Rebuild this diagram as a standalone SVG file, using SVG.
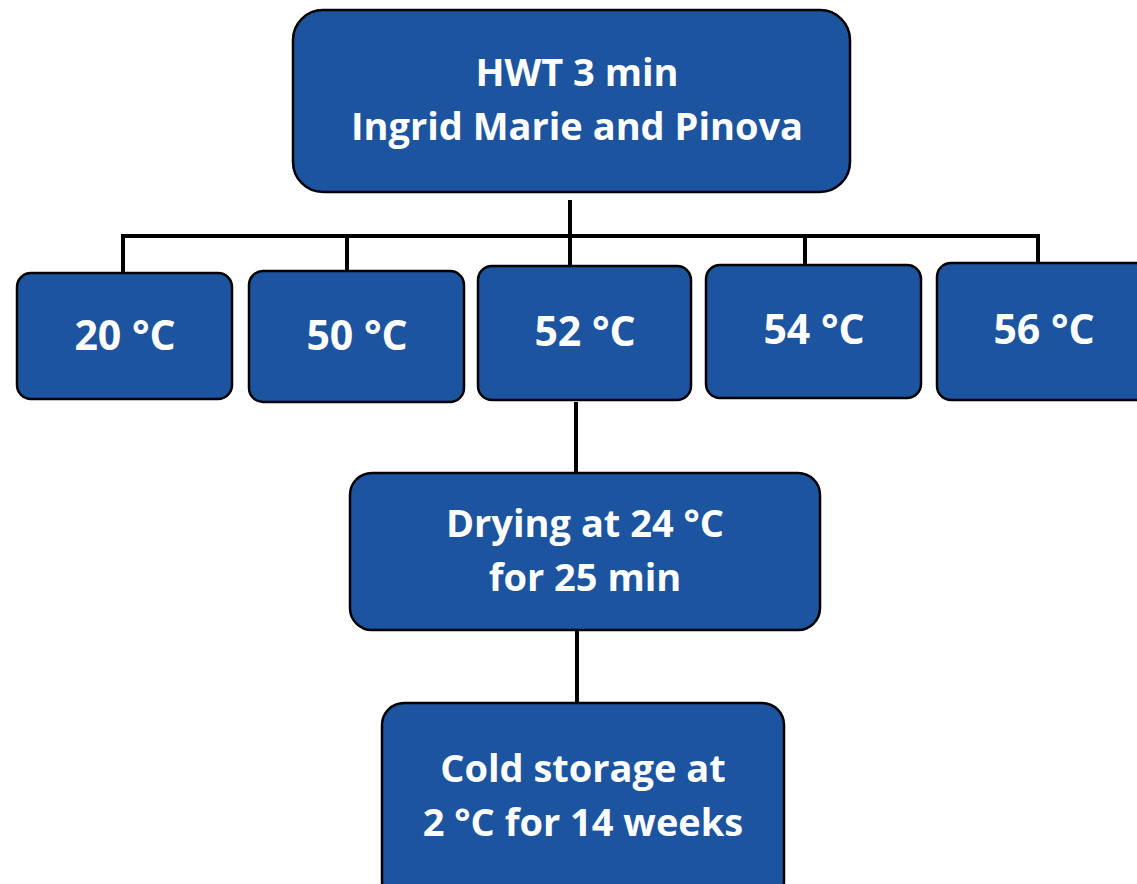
<svg xmlns="http://www.w3.org/2000/svg" width="1137" height="884" viewBox="0 0 1137 884">
<style>
.box{fill:#1c54a0;stroke:#000;stroke-width:2.5}
.t{fill:#fff;font-family:"Open Sans","Liberation Sans",sans-serif;font-weight:bold;font-size:38px;text-anchor:middle}
.r{font-size:41px}
.c{fill:none;stroke:#000;stroke-width:4}
</style>
<rect width="1137" height="884" fill="#fff"/>
<g id="connectors">
<path class="c" d="M570 200V270M123 236H1038M123 234V273M347 234V271M805 234V265M1038 234V263M576 402V472M577 630V703"/>
</g>
<g id="hwt"><rect class="box" x="293" y="10" width="557" height="182" rx="30"/>
<text class="t" x="577" y="86">HWT 3 min</text><text class="t" x="577" y="140">Ingrid Marie and Pinova</text></g>
<g id="t20"><rect class="box" x="17" y="273" width="215" height="126" rx="14"/><text class="t r" x="125" y="350">20 °C</text></g>
<g id="t50"><rect class="box" x="249" y="271" width="215" height="131" rx="14"/><text class="t r" x="357" y="350">50 °C</text></g>
<g id="t52"><rect class="box" x="478" y="266" width="213" height="134" rx="14"/><text class="t r" x="585" y="346">52 °C</text></g>
<g id="t54"><rect class="box" x="706" y="265" width="215" height="133" rx="14"/><text class="t r" x="814" y="344">54 °C</text></g>
<g id="t56"><rect class="box" x="937" y="263" width="215" height="137" rx="14"/><text class="t r" x="1044" y="344">56 °C</text></g>
<g id="drying"><rect class="box" x="350" y="473" width="470" height="157" rx="22"/>
<text class="t" x="585" y="537">Drying at 24 °C</text><text class="t" x="585" y="591">for 25 min</text></g>
<g id="cold"><rect class="box" x="382" y="703" width="402" height="200" rx="22"/>
<text class="t" x="583" y="782">Cold storage at</text><text class="t" x="583" y="836">2 °C for 14 weeks</text></g>
</svg>
